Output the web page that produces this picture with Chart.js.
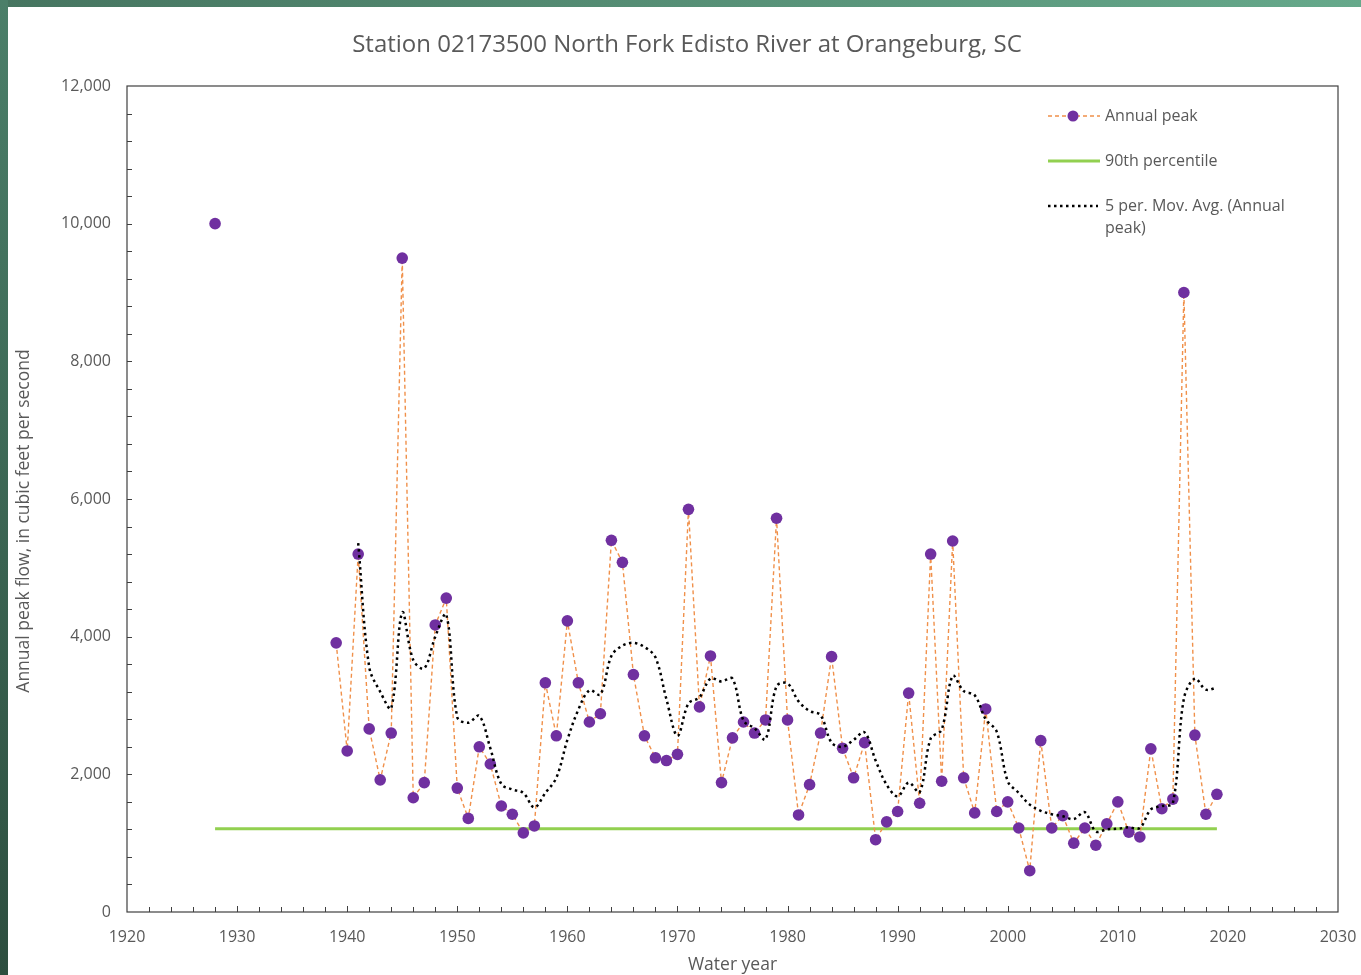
<!DOCTYPE html>
<html>
<head>
<meta charset="utf-8">
<title>Station 02173500 North Fork Edisto River at Orangeburg, SC</title>
<script src="https://cdn.jsdelivr.net/npm/chart.js@4.4.1/dist/chart.umd.min.js"></script>
<style>
  html, body { margin: 0; padding: 0; background: #fff; width: 1361px; height: 975px; overflow: hidden; }
  #topBar { position: absolute; left: 0; top: 0; width: 1361px; height: 7px; background: linear-gradient(to right, #467560, #66a98b); }
  #sideBar { position: absolute; left: 0; top: 0; width: 8px; height: 975px; background: linear-gradient(to bottom, #4b7f69, #2d4e3f); }
  #chart { position: absolute; left: 0; top: 0; }
</style>
</head>
<body>
<div id="topBar"></div>
<div id="sideBar"></div>
<canvas id="chart" width="1361" height="975"></canvas>
<script>
// Annual peak flow, cfs
const peakYears = [1928,
  1939, 1940, 1941, 1942, 1943, 1944, 1945, 1946, 1947, 1948, 1949,
  1950, 1951, 1952, 1953, 1954, 1955, 1956, 1957, 1958, 1959,
  1960, 1961, 1962, 1963, 1964, 1965, 1966, 1967, 1968, 1969,
  1970, 1971, 1972, 1973, 1974, 1975, 1976, 1977, 1978, 1979,
  1980, 1981, 1982, 1983, 1984, 1985, 1986, 1987, 1988, 1989,
  1990, 1991, 1992, 1993, 1994, 1995, 1996, 1997, 1998, 1999,
  2000, 2001, 2002, 2003, 2004, 2005, 2006, 2007, 2008, 2009,
  2010, 2011, 2012, 2013, 2014, 2015, 2016, 2017, 2018, 2019];
const peakFlows = [10000,
  3910, 2340, 5200, 2660, 1920, 2600, 9500, 1660, 1880, 4170, 4560,
  1800, 1360, 2400, 2150, 1540, 1420, 1150, 1250, 3330, 2560,
  4230, 3330, 2760, 2880, 5400, 5080, 3450, 2560, 2240, 2200,
  2290, 5850, 2980, 3720, 1880, 2530, 2760, 2600, 2790, 5720,
  2790, 1410, 1850, 2600, 3710, 2380, 1950, 2460, 1050, 1310,
  1460, 3180, 1580, 5200, 1900, 5390, 1950, 1440, 2950, 1460,
  1600, 1220, 600, 2490, 1220, 1400, 1000, 1220, 970, 1280,
  1600, 1160, 1090, 2370, 1500, 1640, 9000, 2570, 1420, 1710];

// 5-period moving average, starts at 1941
const movAvgYears = peakYears.slice(3);
const movAvgFlows = [
  5360, 3560, 3200, 2960, 4350, 3660, 3540, 4000, 4320,
  2830, 2750, 2850, 2380, 1860, 1780, 1730, 1520, 1730, 1950,
  2500, 2940, 3220, 3160, 3720, 3870, 3910, 3850, 3700, 3090,
  2560, 3030, 3120, 3390, 3350, 3390, 2780, 2670, 2510, 3280,
  3320, 3060, 2920, 2860, 2460, 2400, 2500, 2610, 2200, 1850,
  1680, 1880, 1740, 2520, 2650, 3430, 3210, 3150, 2800, 2620,
  1900, 1730, 1560, 1470, 1420, 1390, 1350, 1450, 1170, 1200,
  1210, 1230, 1220, 1490, 1540, 1580, 3100, 3390, 3230, 3260];

// 90th percentile reference line
const pct90Years = [1928, 2019];
const pct90Flows = [1210, 1210];

const xMin = 1920, xMax = 2030, xMajor = 10, xMinor = 2;
const yMin = 0, yMax = 12000, yMajor = 2000, yMinor = 400;

const FONT = "'Open Sans', 'Noto Sans', sans-serif";
const TEXT = '#595959';
const ORANGE = '#F0904A';
const PURPLE = '#7030A0';
const GREEN = '#92D050';

function pairs(xs, ys) {
  return xs.map((x, i) => ({ x: x, y: ys[i] }));
}

Chart.defaults.font.family = FONT;
Chart.defaults.color = TEXT;

// frame, inside tick marks, titles and legend
const decorations = {
  id: 'decorations',
  afterDraw(chart) {
    const ctx = chart.ctx;
    const a = chart.chartArea;
    const xs = chart.scales.x, ys = chart.scales.y;
    ctx.save();

    ctx.strokeStyle = '#404040';
    ctx.lineWidth = 1.2;
    ctx.strokeRect(a.left, a.top, a.right - a.left, a.bottom - a.top);

    ctx.lineWidth = 1;
    ctx.beginPath();
    for (let v = xMin + xMinor; v < xMax; v += xMinor) {
      const px = Math.round(xs.getPixelForValue(v)) + 0.5;
      const len = v % xMajor === 0 ? 6 : 5;
      ctx.moveTo(px, a.bottom);
      ctx.lineTo(px, a.bottom - len);
    }
    for (let v = yMin + yMinor; v < yMax; v += yMinor) {
      const py = Math.round(ys.getPixelForValue(v)) + 0.5;
      ctx.moveTo(a.left, py);
      ctx.lineTo(a.left + 5, py);
    }
    ctx.stroke();

    ctx.fillStyle = TEXT;
    ctx.textAlign = 'center';
    ctx.textBaseline = 'middle';
    ctx.font = '24px ' + FONT;
    ctx.fillText('Station 02173500 North Fork Edisto River at Orangeburg, SC', 687, 45);

    ctx.font = '17.5px ' + FONT;
    ctx.fillText('Water year', (a.left + a.right) / 2, 965);

    ctx.save();
    ctx.translate(24, 521);
    ctx.rotate(-Math.PI / 2);
    ctx.fillText('Annual peak flow, in cubic feet per second', 0, 0);
    ctx.restore();

    // legend
    const lx0 = 1048, lx1 = 1100, tx = 1105;
    ctx.textAlign = 'left';
    ctx.font = '16px ' + FONT;

    ctx.strokeStyle = ORANGE;
    ctx.lineWidth = 1.4;
    ctx.setLineDash([4, 3]);
    ctx.beginPath();
    ctx.moveTo(lx0, 116); ctx.lineTo(lx1, 116);
    ctx.stroke();
    ctx.setLineDash([]);
    ctx.fillStyle = PURPLE;
    ctx.beginPath();
    ctx.arc(1073, 116, 5.5, 0, Math.PI * 2);
    ctx.fill();

    ctx.strokeStyle = GREEN;
    ctx.lineWidth = 3;
    ctx.beginPath();
    ctx.moveTo(lx0, 161); ctx.lineTo(lx1, 161);
    ctx.stroke();

    ctx.strokeStyle = '#000';
    ctx.lineWidth = 2.5;
    ctx.setLineDash([2.5, 3.5]);
    ctx.beginPath();
    ctx.moveTo(lx0, 206); ctx.lineTo(lx1 - 2, 206);
    ctx.stroke();
    ctx.setLineDash([]);

    ctx.fillStyle = TEXT;
    ctx.fillText('Annual peak', tx, 116);
    ctx.fillText('90th percentile', tx, 161);
    ctx.fillText('5 per. Mov. Avg. (Annual', tx, 206);
    ctx.fillText('peak)', tx, 228);

    ctx.restore();
  }
};

new Chart(document.getElementById('chart'), {
  type: 'scatter',
  data: {
    datasets: [{
      label: '5 per. Mov. Avg. (Annual peak)',
      data: pairs(movAvgYears, movAvgFlows),
      showLine: true,
      borderColor: '#000',
      borderWidth: 2.5,
      borderDash: [2.5, 3.5],
      pointRadius: 0,
      tension: 0.35,
      order: 0
    }, {
      label: 'Annual peak',
      data: pairs(peakYears, peakFlows),
      showLine: true,
      borderColor: ORANGE,
      borderWidth: 1.4,
      borderDash: [4, 3],
      backgroundColor: PURPLE,
      pointBackgroundColor: PURPLE,
      pointBorderWidth: 0,
      pointRadius: 5.8,
      segment: {
        // no line across the missing record years
        borderColor: c => (c.p1.parsed.x - c.p0.parsed.x > 1 ? 'rgba(0,0,0,0)' : ORANGE)
      },
      order: 1
    }, {
      label: '90th percentile',
      data: pairs(pct90Years, pct90Flows),
      showLine: true,
      borderColor: GREEN,
      borderWidth: 3,
      pointRadius: 0,
      order: 2
    }]
  },
  options: {
    responsive: false,
    animation: false,
    devicePixelRatio: 1,
    layout: { padding: { left: 0, right: 23, top: 86, bottom: 0 } },
    plugins: {
      legend: { display: false },
      title: { display: false },
      tooltip: { enabled: false }
    },
    scales: {
      x: {
        type: 'linear',
        min: xMin,
        max: xMax,
        grid: { display: false, drawTicks: false },
        border: { display: false },
        ticks: {
          stepSize: xMajor,
          padding: 16,
          color: TEXT,
          font: { size: 16 },
          callback: v => String(v)
        },
        afterFit: s => { s.height = 63; s.paddingLeft = 0; s.paddingRight = 0; }
      },
      y: {
        min: yMin,
        max: yMax,
        grid: { display: false, drawTicks: false },
        border: { display: false },
        ticks: {
          stepSize: yMajor,
          padding: 16,
          color: TEXT,
          font: { size: 16 },
          callback: v => v.toLocaleString('en-US')
        },
        afterFit: s => { s.width = 127; s.paddingTop = 0; s.paddingBottom = 0; }
      }
    }
  },
  plugins: [decorations]
});
</script>
</body>
</html>
